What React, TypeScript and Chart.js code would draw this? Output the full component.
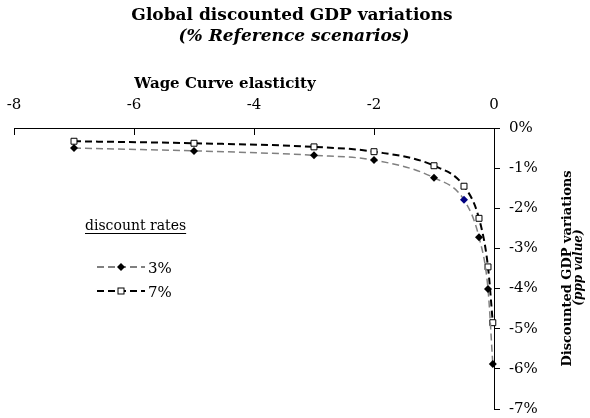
import React, { useEffect, useRef } from 'react';
import { Chart, registerables } from 'chart.js';

Chart.register(...registerables);

// ---- data ----
const elasticity = [-7, -5, -3, -2, -1, -0.5, -0.25, -0.1, -0.02];
const rate3 = [-0.5, -0.57, -0.68, -0.8, -1.24, -1.79, -2.72, -4.01, -5.88];
const rate7 = [-0.33, -0.38, -0.47, -0.59, -0.94, -1.45, -2.25, -3.46, -4.85];
const seriesLabels = ['3%', '7%'];
const xTicks = [-8, -6, -4, -2, 0];
const yTicks = [0, -1, -2, -3, -4, -5, -6, -7];
const titleText = 'Global discounted GDP variations';
const subtitleText = '(% Reference scenarios)';
const xTitleText = 'Wage Curve elasticity';
const yTitleText = 'Discounted GDP variations';
const yTitleText2 = '(ppp value)';
const legendTitleText = 'discount rates';
const highlightIndex = 5;

const FONT = '"DejaVu Serif", serif';
const GRAY = '#808080';
const NAVY = '#000080';

function drawDiamond(ctx: CanvasRenderingContext2D, x: number, y: number, r: number, fill: string) {
  ctx.beginPath();
  ctx.moveTo(x, y - r);
  ctx.lineTo(x + r, y);
  ctx.lineTo(x, y + r);
  ctx.lineTo(x - r, y);
  ctx.closePath();
  ctx.fillStyle = fill;
  ctx.fill();
}

function drawSquare(ctx: CanvasRenderingContext2D, x: number, y: number, h: number) {
  ctx.fillStyle = '#fff';
  ctx.fillRect(x - h, y - h, 2 * h, 2 * h);
  ctx.strokeStyle = '#000';
  ctx.lineWidth = 1;
  ctx.strokeRect(x - h, y - h, 2 * h, 2 * h);
}

const textPlugin = {
  id: 'customTexts',
  afterDraw(chart: any) {
    const ctx: CanvasRenderingContext2D = chart.ctx;
    const xs = chart.scales.x;
    const area = chart.chartArea;
    ctx.save();
    ctx.fillStyle = '#000';
    ctx.textAlign = 'center';
    ctx.textBaseline = 'alphabetic';
    ctx.font = `bold 17px ${FONT}`;
    ctx.fillText(titleText, 292, 20);
    ctx.font = `italic bold 17px ${FONT}`;
    ctx.fillText(subtitleText, 294, 41);
    ctx.font = `bold 15px ${FONT}`;
    ctx.fillText(xTitleText, 225, 88);

    // inward tick marks on the top axis
    ctx.strokeStyle = '#000';
    ctx.lineWidth = 1;
    xs.ticks.forEach((t: any) => {
      const px = Math.round(xs.getPixelForValue(t.value)) + 0.5;
      ctx.beginPath();
      ctx.moveTo(px, area.top);
      ctx.lineTo(px, area.top + 7);
      ctx.stroke();
    });

    // y axis title
    ctx.save();
    ctx.translate(571, (area.top + area.bottom) / 2);
    ctx.rotate(-Math.PI / 2);
    ctx.fillStyle = '#000';
    ctx.font = `bold 13px ${FONT}`;
    ctx.fillText(yTitleText, 0, 0);
    ctx.font = `italic bold 12px ${FONT}`;
    ctx.fillText(yTitleText2, 1, 11);
    ctx.restore();

    // legend
    ctx.textAlign = 'left';
    ctx.font = `14px ${FONT}`;
    ctx.fillStyle = '#000';
    ctx.fillText(legendTitleText, 85, 230);
    const w = ctx.measureText(legendTitleText).width;
    ctx.beginPath();
    ctx.moveTo(85, 233.5);
    ctx.lineTo(85 + w, 233.5);
    ctx.stroke();

    ctx.save();
    ctx.setLineDash([7, 4]);
    ctx.strokeStyle = GRAY;
    ctx.lineWidth = 2;
    ctx.beginPath();
    ctx.moveTo(97, 267);
    ctx.lineTo(145, 267);
    ctx.stroke();
    ctx.strokeStyle = '#000';
    ctx.beginPath();
    ctx.moveTo(97, 291);
    ctx.lineTo(145, 291);
    ctx.stroke();
    ctx.restore();
    drawDiamond(ctx, 121, 267, 4, '#000');
    drawSquare(ctx, 121, 291, 3);
    ctx.fillStyle = '#000';
    ctx.font = `15px ${FONT}`;
    ctx.fillText(seriesLabels[0], 148, 273);
    ctx.fillText(seriesLabels[1], 148, 297);
    ctx.restore();
  },
};

export default function App() {
  const ref = useRef<HTMLCanvasElement | null>(null);
  useEffect(() => {
    if (!ref.current) return;
    const chart = new Chart(ref.current, {
      type: 'line',
      data: {
        datasets: [
          {
            label: seriesLabels[0],
            data: elasticity.map((x, i) => ({ x, y: rate3[i] })),
            borderColor: GRAY,
            borderWidth: 1.5,
            borderDash: [7, 4],
            cubicInterpolationMode: 'monotone',
            pointStyle: 'rectRot',
            pointRadius: 4,
            pointBorderWidth: 0,
            pointBackgroundColor: (c: any) => (c.dataIndex === highlightIndex ? NAVY : '#000'),
            pointBorderColor: (c: any) => (c.dataIndex === highlightIndex ? NAVY : '#000'),
            clip: false as any,
          },
          {
            label: seriesLabels[1],
            data: elasticity.map((x, i) => ({ x, y: rate7[i] })),
            borderColor: '#000',
            borderWidth: 2,
            borderDash: [7, 4],
            cubicInterpolationMode: 'monotone',
            pointStyle: 'rect',
            pointRadius: 4.2,
            pointBorderWidth: 1,
            pointBackgroundColor: '#fff',
            pointBorderColor: '#000',
            clip: false as any,
          },
        ],
      },
      options: {
        responsive: false,
        animation: false,
        devicePixelRatio: 1,
        layout: { padding: { left: 14, right: 36, top: 88, bottom: 9 } },
        plugins: {
          legend: { display: false },
          tooltip: { enabled: false },
          title: { display: false },
        },
        scales: {
          x: {
            type: 'linear',
            position: 'top',
            min: -8,
            max: 0,
            afterBuildTicks: (s: any) => {
              s.ticks = xTicks.map((v) => ({ value: v }));
            },
            afterFit: (s: any) => {
              s.height = 40;
              s.paddingLeft = 0;
              s.paddingRight = 0;
              s.paddingTop = 0;
              s.paddingBottom = 0;
            },
            ticks: {
              font: { family: FONT, size: 15 },
              color: '#000',
              padding: 14,
              maxRotation: 0,
              callback: (v: any) => String(v),
            },
            grid: { drawOnChartArea: false, drawTicks: false },
            border: { color: '#000', width: 1 },
          },
          y: {
            type: 'linear',
            position: 'right',
            min: -7,
            max: 0,
            afterBuildTicks: (s: any) => {
              s.ticks = yTicks.map((v) => ({ value: v }));
            },
            afterFit: (s: any) => {
              s.width = 60;
              s.paddingLeft = 0;
              s.paddingRight = 0;
              s.paddingTop = 0;
              s.paddingBottom = 0;
            },
            ticks: {
              font: { family: FONT, size: 15 },
              color: '#000',
              padding: 9,
              callback: (v: any) => `${v}%`,
            },
            grid: { drawOnChartArea: false, drawTicks: true, tickLength: 6, color: '#000' },
            border: { color: '#000', width: 1 },
          },
        },
      },
      plugins: [textPlugin],
    } as any);
    return () => chart.destroy();
  }, []);
  return (
    <div style={{ position: 'fixed', left: 0, top: 0, width: 590, height: 418, background: '#fff' }}>
      <canvas ref={ref} width={590} height={418} />
    </div>
  );
}
